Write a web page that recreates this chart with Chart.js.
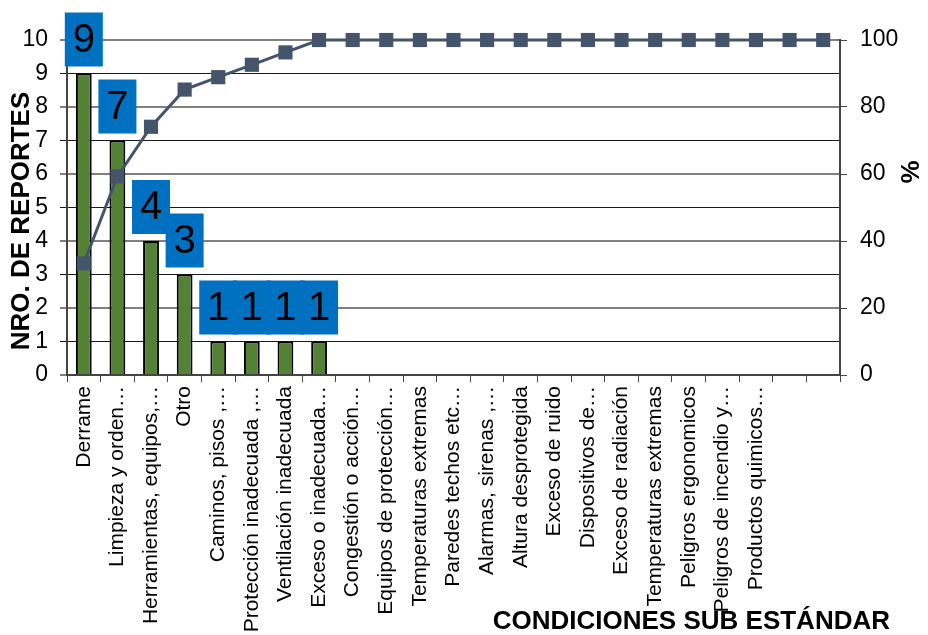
<!DOCTYPE html>
<html>
<head>
<meta charset="utf-8">
<script src="https://cdn.jsdelivr.net/npm/chart.js@4.4.1/dist/chart.umd.min.js"></script>
<style>
  html, body { margin: 0; padding: 0; background: #fff; }
  #wrap { width: 928px; height: 635px; position: relative; }
</style>
</head>
<body>
<div id="wrap"><canvas id="pareto"></canvas></div>
<script>
// Pareto: condiciones sub estándar

const categories = [
    'Derrame', 'Limpieza y orden…', 'Herramientas, equipos,…', 'Otro',
    'Caminos, pisos ,…', 'Protección inadecuada ,…', 'Ventilación inadecuada',
    'Exceso o inadecuada…', 'Congestión o acción…', 'Equipos de protección…',
    'Temperaturas extremas', 'Paredes techos etc…', 'Alarmas, sirenas ,…',
    'Altura desprotegida', 'Exceso de ruido', 'Dispositivos de…',
    'Exceso de radiación', 'Temperaturas extremas', 'Peligros ergonomicos',
    'Peligros de incendio y…', 'Productos quimicos…', '', ''
];
const reportes = [9, 7, 4, 3, 1, 1, 1, 1, 0, 0, 0, 0, 0, 0, 0, 0, 0, 0, 0, 0, 0, 0, 0];
const acumulado = [33.3, 59.3, 74.1, 85.2, 88.9, 92.6, 96.3, 100, 100, 100, 100, 100,
    100, 100, 100, 100, 100, 100, 100, 100, 100, 100, 100];
const ticksLeft = [0, 1, 2, 3, 4, 5, 6, 7, 8, 9, 10];
const ticksRight = [0, 20, 40, 60, 80, 100];

const FONT = '"Liberation Sans", Arial, sans-serif';

/** Blue value boxes above bars + axis titles */
const labelsPlugin = {
    id: 'paretoLabels',
    afterDatasetsDraw(chart) {
        const { ctx, chartArea } = chart;
        const meta = chart.getDatasetMeta(1); // bar dataset
        const boxW = 38, boxH = 54, gap = 7;
        ctx.save();
        ctx.fillStyle = '#0070c0';
        meta.data.forEach((bar, i) => {
            if (!reportes[i]) return;
            ctx.fillRect(bar.x - boxW / 2, bar.y - gap - boxH, boxW, boxH);
        });
        ctx.fillStyle = '#000';
        ctx.font = '40px ' + FONT;
        ctx.textAlign = 'center';
        ctx.textBaseline = 'middle';
        meta.data.forEach((bar, i) => {
            if (!reportes[i]) return;
            ctx.fillText(String(reportes[i]), bar.x, bar.y - gap - boxH / 2 + 1);
        });

        // axis titles
        ctx.font = 'bold 26px ' + FONT;
        ctx.save();
        ctx.translate(22, 221);
        ctx.rotate(-Math.PI / 2);
        ctx.fillText('NRO. DE REPORTES', 0, 0);
        ctx.restore();

        ctx.save();
        ctx.translate(912, 172);
        ctx.rotate(-Math.PI / 2);
        ctx.fillText('%', 0, 0);
        ctx.restore();

        ctx.textAlign = 'right';
        ctx.fillText('CONDICIONES SUB ESTÁNDAR', 890, chartArea.bottom + 247);
        ctx.restore();
    }
};

const ctx = document.getElementById('pareto');
new Chart(ctx, {
    type: 'bar',
    data: {
        labels: categories,
        datasets: [{
            type: 'line',
            label: '%',
            data: acumulado,
            yAxisID: 'y1',
            borderColor: '#44546a',
            backgroundColor: '#44546a',
            borderWidth: 3,
            pointStyle: 'rect',
            pointRadius: 10,
            pointBorderWidth: 0,
            tension: 0,
            clip: false,
            order: 0
        }, {
            label: 'Reportes',
            data: reportes,
            yAxisID: 'y',
            backgroundColor: '#548235',
            borderColor: '#000',
            borderWidth: 2,
            barPercentage: 0.47,
            categoryPercentage: 1,
            order: 1
        }]
    },
    options: {
        responsive: true,
        maintainAspectRatio: false,
        animation: false,
        layout: { padding: { top: 40, left: 0, right: 0, bottom: 0 } },
        plugins: { legend: { display: false }, tooltip: { enabled: false } },
        scales: {
            x: {
                afterFit(scale) { scale.height = 260; },
                grid: { offset: true, drawOnChartArea: false, tickLength: 7, color: '#444', lineWidth: 1 },
                border: { color: '#444', width: 2 },
                ticks: {
                    autoSkip: false, minRotation: 90, maxRotation: 90, padding: 4,
                    color: '#000', font: { family: FONT, size: 21 }
                }
            },
            y: {
                position: 'left',
                min: 0, max: 10,
                afterFit(scale) { scale.width = 67; },
                afterBuildTicks(scale) { scale.ticks = ticksLeft.map(v => ({ value: v })); },
                grid: {
                    tickLength: 7,
                    color: c => (c.tick && c.tick.value % 2 === 0) ? '#808080' : '#1a1a1a',
                    lineWidth: c => (c.tick && c.tick.value % 2 === 0) ? 2 : 1
                },
                border: { color: '#444', width: 2 },
                ticks: { padding: 12, color: '#000', font: { family: FONT, size: 23 } }
            },
            y1: {
                position: 'right',
                min: 0, max: 100,
                afterFit(scale) { scale.width = 88; },
                afterBuildTicks(scale) { scale.ticks = ticksRight.map(v => ({ value: v })); },
                grid: { drawOnChartArea: false, tickLength: 7, color: '#444' },
                border: { color: '#444', width: 2 },
                ticks: { padding: 13, color: '#000', font: { family: FONT, size: 23 } }
            }
        }
    },
    plugins: [labelsPlugin]
});
</script>
</body>
</html>
